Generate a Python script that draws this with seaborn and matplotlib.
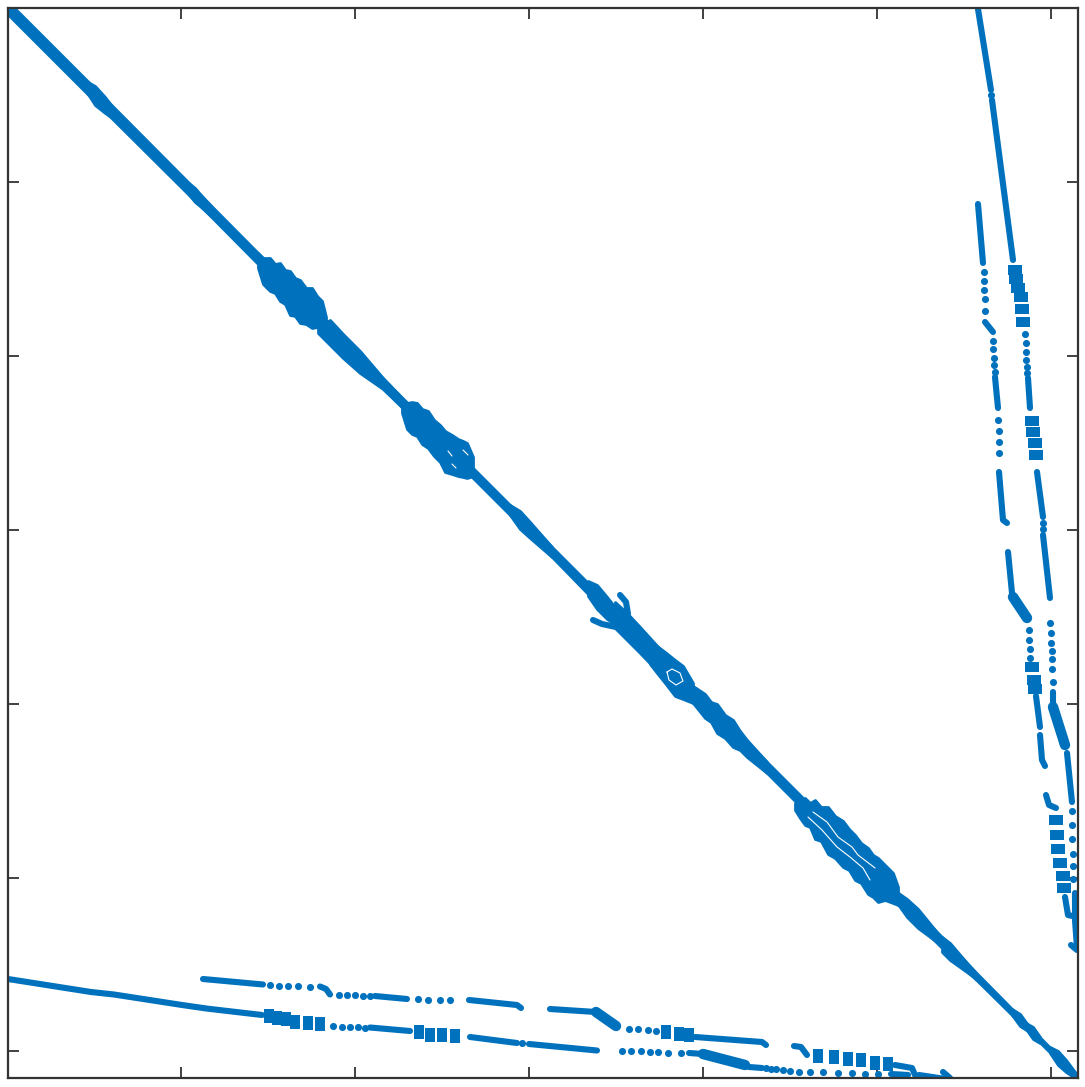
import numpy as np
import matplotlib.pyplot as plt
import seaborn as sns

# sparsity pattern (axis units run 8..1078 on both sides)
x_ticks = [181, 355, 529, 703, 877, 1051]
y_ticks = [182, 356, 530, 704, 878, 1051]

# diagonal band: position, extent above and below the diagonal
main_x = [8, 85, 112, 190, 205, 260, 330, 400, 475, 510, 552, 590, 620, 770, 800, 900, 945, 978, 1015, 1078]
main_up = [6.5, 6.5, 6.5, 6, 5.5, 5, 5, 4.5, 5, 5, 5, 5, 5, 5, 5, 5, 5, 3.5, 3, 2]
main_low = [6.5, 6.5, 6.5, 6, 5.5, 6, 6, 5.5, 5, 5, 5, 6, 6, 6, 6, 6, 6, 3.5, 3, 2]

bump_x = [
    [86, 95, 105, 114],
    [186, 195, 200, 212],
    [258, 263, 270, 275, 280, 285, 290, 295, 300, 306, 312, 317, 322, 326],
    [318, 330, 343, 360, 383, 402],
    [402, 407, 412, 417, 422, 428, 434, 440, 445, 452, 458, 463, 467, 473],
    [510, 520, 530, 552],
    [588, 597, 607, 618],
    [615, 627, 640, 660],
    [650, 657, 665, 675, 683, 693],
    [693, 705, 711, 717, 725, 733, 740, 747, 767],
    [795, 800, 805, 810, 815, 821, 828, 835, 843, 849, 855, 861, 868, 873, 878, 885, 893, 898],
    [897, 907, 918, 945],
    [942, 950, 978],
    [1012, 1020, 1028],
    [1026, 1033, 1040],
    [1050, 1058, 1066, 1078],
]
bump_up = [
    [5, 9, 8, 5],
    [5, 7, 6, 5],
    [5, 5, 12, 11, 17, 15, 19, 17, 20, 18, 24, 21, 21, 9],
    [-8, 10, 9, 9, 5, 4],
    [3, 4, 10, 14, 13, 17, 14, 15, 14, 17, 19, 22, 24, 16],
    [5, 9, 8, 5],
    [7, 12, 10, 7],
    [13, 14, 13, 11],
    [9, 11, 13, 15, 17, 10],
    [7, 11, 9, 13, 10, 13, 9, 7, 5],
    [-8, 0, 7, 7, 15, 14, 21, 19, 22, 20, 20, 18, 20, 18, 20, 20, 20, 11],
    [5, 8, 9, 3],
    [5, 7, 2],
    [3, 6, 3],
    [3, 6, 3],
    [3, 7, 6, 2],
]
bump_low = [
    [5, 10, 8, 5],
    [5, 7, 6, 5],
    [10, 21, 21, 18, 21, 19, 25, 21, 23, 18, 16, 10, 8, 2],
    [15, 15, 15, 13, 6, 5],
    [11, 22, 22, 19, 22, 20, 22, 22, 27, 22, 18, 14, 11, 3],
    [5, 9, 8, 5],
    [8, 12, 12, 8],
    [13, 13, 13, 14],
    [14, 16, 18, 21, 16, 10],
    [10, 13, 11, 16, 13, 14, 10, 10, 6],
    [15, 18, 20, 17, 24, 20, 26, 23, 24, 21, 25, 22, 26, 24, 24, 15, 10, 7],
    [6, 10, 10, 3],
    [10, 10, 2],
    [3, 6, 3],
    [3, 6, 3],
    [3, 7, 6, 2],
]

# forks and the white slits inside the bands
fork_x = [[620, 626, 628], [593, 602, 616]]
fork_y = [[595, 602, 614], [620, 624, 627]]
slit_x = [
    [813, 827, 838, 852, 858, 875],
    [808, 822, 837, 850, 863, 870],
    [667, 672, 680, 683, 676, 669, 667],
    [448, 452], [463, 468], [452, 456],
]
slit_y = [
    [812, 822, 837, 847, 855, 868],
    [817, 830, 847, 857, 868, 880],
    [672, 669, 673, 681, 685, 680, 672],
    [451, 456], [450, 455], [464, 468],
]

# lower strands
low_run_x = [
    [8, 91, 114, 182, 207, 262],
    [370, 410], [470, 517], [529, 597], [689, 703], [749, 762], [891, 908], [919, 943],
    [203, 263], [320, 326, 330], [375, 407], [469, 517, 521], [550, 596],
    [695, 762, 766], [794, 801, 807], [895, 912, 915], [943, 950],
]
low_run_y = [
    [979, 992, 994.5, 1005, 1008.6, 1015],
    [1027.5, 1031], [1037, 1043], [1044, 1050.5], [1053, 1054], [1067, 1068], [1074, 1075], [1075, 1078.6],
    [979, 984.5], [986.5, 989, 994.5], [996, 999], [1000, 1005, 1008], [1009, 1012],
    [1037, 1042, 1045], [1046, 1047, 1055], [1065, 1068, 1075], [1072, 1078],
]
low_thick_x = [[703, 745], [596, 616]]
low_thick_y = [[1054, 1065], [1012, 1026]]
low_dot_x = [333, 342, 350, 358, 365, 522, 622, 631, 641, 650, 658, 668, 681, 766, 771, 776, 783, 790, 799,
             810, 823, 838, 852, 865, 878, 270, 279, 288, 298, 310, 339, 347, 355, 363, 370, 418, 428, 440, 450,
             629, 638, 648, 656]
low_dot_y = [1026, 1026.5, 1027, 1027, 1027.5, 1043, 1050.5, 1051, 1051, 1052, 1052, 1052.5, 1053, 1068, 1069, 1069, 1070, 1071, 1072,
             1072, 1072.3, 1072.7, 1073, 1074, 1074, 985, 985.5, 986, 986, 986.5, 994.5, 995, 995, 995.5, 996, 999, 999.5, 1000, 1000,
             1029, 1029, 1030, 1031]
low_block_x = [269, 277, 286, 295, 308, 320, 419, 430, 442, 455, 666, 679, 689, 818, 834, 848, 861, 875, 888]
low_block_y = [1016, 1017.5, 1018.5, 1021.5, 1022.5, 1024, 1032, 1035, 1035, 1036, 1032, 1034, 1035, 1056, 1056.5, 1059, 1060, 1063, 1064]

# right strands
right_run_x = [
    [978, 991], [992, 1013], [1028, 1030], [1037, 1043], [1043, 1050], [1053, 1053], [1067, 1072], [1075, 1075], [1075, 1077], [1071, 1077],
    [978, 983], [985, 993], [995, 998], [999, 1003, 1007], [1008, 1012], [1036, 1040], [1040, 1042, 1045],
    [1046, 1049, 1056], [1065, 1068, 1077],
]
right_run_y = [
    [9, 90], [100, 260], [378, 408], [472, 517], [535, 598], [692, 703], [753, 802], [893, 913], [920, 948], [945, 950],
    [204, 263], [322, 332], [377, 408], [472, 520, 523], [552, 593], [696, 727], [735, 760, 766],
    [795, 805, 808], [897, 915, 917],
]
right_thick_x = [[1053, 1065], [1013, 1027]]
right_thick_y = [[707, 745], [597, 618]]
right_dot_x = [991, 1025, 1026, 1026, 1026, 1027, 1027, 1043, 1043, 1050, 1051, 1051, 1052, 1052, 1052, 1053,
               1072, 1072, 1072, 1073, 1073, 1073, 984, 984, 984, 985, 985, 993, 993, 994, 994, 995,
               998, 999, 999, 999, 1029, 1029, 1030, 1030]
right_dot_y = [95, 334, 343, 352, 360, 367, 373, 523, 529, 623, 633, 643, 651, 659, 669, 682,
               811, 825, 839, 854, 866, 879, 272, 281, 290, 299, 311, 341, 349, 358, 365, 372,
               420, 431, 442, 453, 630, 640, 649, 658]
right_block_x = [1015, 1016, 1018, 1021, 1022, 1023, 1032, 1033, 1035, 1036, 1032, 1034, 1035, 1056, 1057, 1058, 1060, 1063, 1064]
right_block_y = [270, 279, 288, 297, 309, 322, 421, 432, 443, 455, 667, 680, 689, 820, 835, 849, 863, 876, 888]

blue = "#0072BD"

sns.set_style("white")
plt.rcParams["lines.solid_capstyle"] = "round"

fig = plt.figure(figsize=(10.85, 10.87), dpi=100)
ax = fig.add_axes([8 / 1085, 1 - 1078 / 1087, 1070 / 1085, 1070 / 1087])


def band(x, up, low):
    x = np.array(x, dtype=float)
    ax.fill_between(x, x - np.array(up), x + np.array(low), color=blue, lw=2, joinstyle="round")


def runs(xs, ys, width, color=blue):
    for rx, ry in zip(xs, ys):
        sns.lineplot(x=rx, y=ry, color=color, lw=width, sort=False, estimator=None, ax=ax)


band(main_x, main_up, main_low)
for bx, bu, bl in zip(bump_x, bump_up, bump_low):
    band(bx, bu, bl)
runs(fork_x, fork_y, 4.4)
runs(slit_x, slit_y, 0.8, color="white")

runs(low_run_x, low_run_y, 4.4)
runs(low_thick_x, low_thick_y, 7.5)
runs(right_run_x, right_run_y, 4.4)
runs(right_thick_x, right_thick_y, 7.5)

sns.scatterplot(x=low_dot_x, y=low_dot_y, s=26, color=blue, linewidth=0, ax=ax)
sns.scatterplot(x=right_dot_x, y=right_dot_y, s=26, color=blue, linewidth=0, ax=ax)
for shift in [-2, 2]:
    sns.scatterplot(x=low_block_x, y=np.array(low_block_y) + shift, s=46, marker="s", color=blue, linewidth=0, ax=ax)
    sns.scatterplot(x=np.array(right_block_x) + shift, y=right_block_y, s=46, marker="s", color=blue, linewidth=0, ax=ax)

ax.set_xlim(8, 1078)
ax.set_ylim(1078, 8)
ax.set_xticks(x_ticks)
ax.set_yticks(y_ticks)
ax.tick_params(direction="in", length=8, width=1.3, color="#333333", top=True, right=True,
               bottom=True, left=True, labelbottom=False, labelleft=False)
for s in ax.spines.values():
    s.set_linewidth(1.6)
    s.set_color("#333333")

fig.savefig("out.png", dpi=100)
